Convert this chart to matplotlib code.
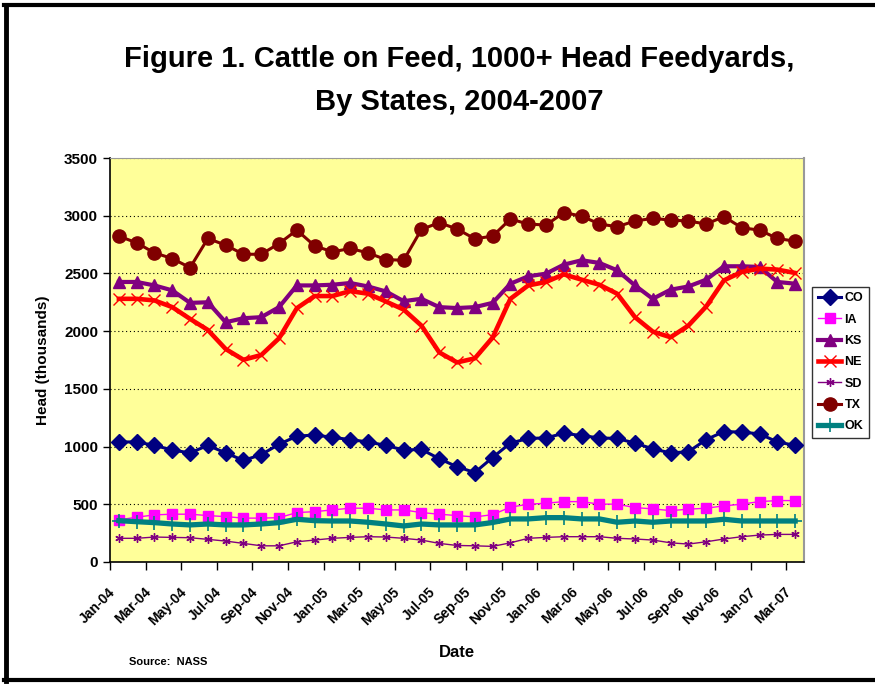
import numpy as np
import matplotlib.pyplot as plt
import matplotlib.transforms as mtransforms
from matplotlib.lines import Line2D

months = ["Jan-04","Feb-04","Mar-04","Apr-04","May-04","Jun-04","Jul-04","Aug-04","Sep-04","Oct-04","Nov-04","Dec-04",
          "Jan-05","Feb-05","Mar-05","Apr-05","May-05","Jun-05","Jul-05","Aug-05","Sep-05","Oct-05","Nov-05","Dec-05",
          "Jan-06","Feb-06","Mar-06","Apr-06","May-06","Jun-06","Jul-06","Aug-06","Sep-06","Oct-06","Nov-06","Dec-06",
          "Jan-07","Feb-07","Mar-07"]
tick_labels = months[::2]

CO = [1040,1040,1010,970,945,1010,945,880,930,1020,1090,1100,1080,1060,1040,1010,970,975,895,825,
      775,905,1030,1070,1075,1115,1095,1075,1070,1030,980,945,955,1060,1130,1125,1110,1040,1010]
IA = [365,388,408,414,414,402,393,380,380,384,428,436,451,466,466,451,451,428,414,402,
      390,410,475,500,509,523,523,501,501,471,460,445,457,466,486,501,523,532,532]
KS = [2426,2426,2396,2353,2245,2250,2077,2112,2121,2208,2396,2396,2402,2417,2387,2344,2260,2280,2208,2200,
      2208,2245,2411,2475,2498,2576,2614,2591,2527,2396,2280,2359,2387,2446,2562,2562,2556,2426,2411]
NE = [2280,2280,2266,2208,2106,2010,1845,1752,1793,1938,2199,2304,2304,2347,2324,2257,2187,2048,1816,1729,
      1764,1944,2280,2396,2426,2492,2446,2402,2324,2121,1996,1947,2048,2213,2440,2513,2542,2533,2504]
SD = [205,205,216,213,210,196,181,161,140,140,175,190,205,213,219,216,205,190,161,143,
      140,135,166,205,213,219,219,219,205,199,190,166,155,175,199,219,233,239,239]
TX = [2823,2765,2678,2629,2550,2803,2745,2666,2666,2759,2875,2739,2687,2716,2678,2620,2614,2881,2940,2885,
      2800,2823,2971,2928,2919,3027,2997,2928,2905,2954,2977,2962,2954,2928,2992,2896,2875,2803,2779]
OK = [358,349,341,329,321,329,321,321,329,341,370,358,355,355,344,329,312,329,321,321,
      321,342,373,373,384,384,373,373,344,355,344,355,355,355,370,355,355,355,355]

plt.rcParams['font.family'] = ['Liberation Sans', 'DejaVu Sans']
plt.rcParams['font.weight'] = 'bold'

fig = plt.figure(figsize=(8.75, 6.84), dpi=100)
ax = fig.add_axes([0.1257, 0.1784, 0.7932, 0.5906])
ax.set_facecolor('#FFFF99')

x = np.arange(len(months))
ax.plot(x, CO, color='#000080', lw=2.2, marker='D', ms=8.5, label='CO', zorder=3)
ax.plot(x, IA, color='#FF00FF', lw=1.0, marker='s', ms=7, label='IA', zorder=3)
ax.plot(x, KS, color='#800080', lw=3.0, marker='^', ms=9, label='KS', zorder=3)
ax.plot(x, NE, color='#FF0000', lw=3.3, marker='x', ms=9, mew=1.0, label='NE', zorder=3)
ax.plot(x, SD, color='#800080', lw=1.0, marker=(6, 2, 0), ms=6, mew=1.0, label='SD', zorder=3)
ax.plot(x, TX, color='#800000', lw=2.2, marker='o', ms=9.5, label='TX', zorder=3)
ax.plot(x, OK, color='#008080', lw=3.8, marker='+', ms=10, mew=1.2, label='OK', zorder=3)

ax.set_xlim(-0.5, len(months) - 0.5)
ax.set_ylim(0, 3500)
ax.set_yticks(np.arange(0, 3501, 500))
ax.yaxis.grid(True, linestyle=(0, (1, 2.5)), color='black', lw=0.8)
ax.set_axisbelow(True)

ax.set_xticks(np.arange(-0.5, len(months) - 0.5, 2))
ax.set_xticklabels(tick_labels, rotation=45, ha='right', va='center', rotation_mode='anchor',
                   fontsize=10, fontweight='bold')
ax.tick_params(axis='x', length=6, width=1, pad=14)
shift = mtransforms.ScaledTranslation(3 / 100, 0, fig.dpi_scale_trans)
for lab in ax.get_xticklabels():
    lab.set_transform(lab.get_transform() + shift)
ax.tick_params(axis='y', length=5, width=1, labelsize=11)
for lab in ax.get_yticklabels():
    lab.set_fontweight('bold')

ax.spines['top'].set_color('#999999')
ax.spines['right'].set_color('#999999')
ax.spines['right'].set_linewidth(1.5)
ax.spines['left'].set_linewidth(1.2)
ax.spines['bottom'].set_linewidth(1.2)

ax.set_ylabel('Head (thousands)', fontsize=11, fontweight='bold', labelpad=10)
ax.set_xlabel('Date', fontsize=12, fontweight='bold', labelpad=12)

leg = fig.legend(loc='upper left', bbox_to_anchor=(0.928, 0.581), fontsize=9, frameon=True,
                 fancybox=False, edgecolor='black', handlelength=1.9, handletextpad=0.25,
                 labelspacing=0.75, borderpad=0.45, borderaxespad=0)
leg.get_frame().set_linewidth(1.0)
for t in leg.get_texts():
    t.set_fontweight('bold')

fig.text(0.5246, 0.9025, 'Figure 1. Cattle on Feed, 1000+ Head Feedyards,',
         ha='center', va='baseline', fontsize=21, fontweight='bold')
fig.text(0.5246, 0.8392, 'By States, 2004-2007',
         ha='center', va='baseline', fontsize=21, fontweight='bold')
fig.text(0.147, 0.032, 'Source:  NASS', fontsize=8, fontweight='bold', va='center')

# black frame (left, top, bottom)
fig.add_artist(Line2D([0.007, 0.007], [0.005, 0.993], color='black', lw=3.5))
fig.add_artist(Line2D([0.005, 1.0], [0.993, 0.993], color='black', lw=3))
fig.add_artist(Line2D([0.005, 1.0], [0.006, 0.006], color='black', lw=3))

fig.savefig('out.png', dpi=100)
